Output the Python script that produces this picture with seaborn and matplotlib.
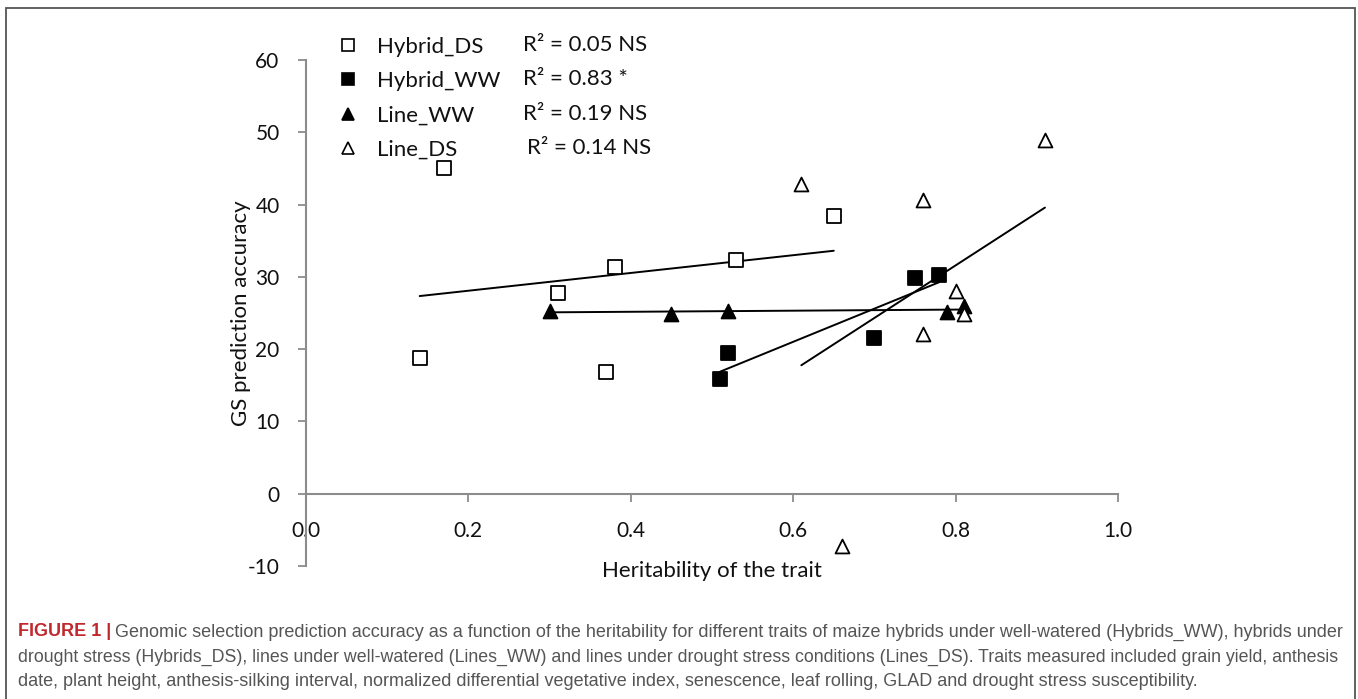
import matplotlib
matplotlib.use('Agg')
import matplotlib.pyplot as plt
import seaborn as sns
from matplotlib.lines import Line2D
from matplotlib.patches import Rectangle
from matplotlib.ticker import FormatStrFormatter

# values (heritability, GS prediction accuracy)
hyb_ds_h = [0.14, 0.17, 0.31, 0.37, 0.38, 0.53, 0.65]
hyb_ds_acc = [18.8, 45.0, 27.8, 16.9, 31.4, 32.4, 38.4]
hyb_ww_h = [0.51, 0.52, 0.70, 0.75, 0.78]
hyb_ww_acc = [15.9, 19.4, 21.5, 29.9, 30.3]
line_ww_h = [0.30, 0.45, 0.52, 0.79, 0.81]
line_ww_acc = [25.3, 24.9, 25.3, 25.1, 25.9]
line_ds_h = [0.61, 0.66, 0.76, 0.76, 0.80, 0.81, 0.91]
line_ds_acc = [42.8, -7.3, 40.6, 22.1, 28.0, 24.9, 48.9]

group_names = ['Hybrid_DS', 'Hybrid_WW', 'Line_WW', 'Line_DS']
r2_labels = ['R² = 0.05 NS', 'R² = 0.83 *', 'R² = 0.19 NS', 'R² = 0.14 NS']
x_ticks = [0.0, 0.2, 0.4, 0.6, 0.8, 1.0]
y_ticks = [-10, 0, 10, 20, 30, 40, 50, 60]

caption_head = 'FIGURE 1 |'
caption_lines = [
    'Genomic selection prediction accuracy as a function of the heritability for different traits of maize hybrids under well-watered (Hybrids_WW), hybrids under',
    'drought stress (Hybrids_DS), lines under well-watered (Lines_WW) and lines under drought stress conditions (Lines_DS). Traits measured included grain yield, anthesis',
    'date, plant height, anthesis-silking interval, normalized differential vegetative index, senescence, leaf rolling, GLAD and drought stress susceptibility.',
]

sns.set_style('ticks')
plt.rcParams['font.family'] = ['Lato', 'DejaVu Sans']
plt.rcParams['axes.unicode_minus'] = False

W, H = 1358, 699
fig = plt.figure(figsize=(W / 100, H / 100), dpi=100)
ax = fig.add_axes([306 / W, 1 - 566 / H, (1118 - 306) / W, (566 - 60) / H])

groups = [
    (hyb_ds_h, hyb_ds_acc, 's', 'white'),
    (hyb_ww_h, hyb_ww_acc, 's', 'black'),
    (line_ww_h, line_ww_acc, '^', 'black'),
    (line_ds_h, line_ds_acc, '^', 'white'),
]

for xs, ys, mk, fc in groups:
    sns.regplot(x=xs, y=ys, ax=ax, ci=None, truncate=True, color='black', marker=mk,
                scatter_kws=dict(s=100, facecolors=fc, edgecolors='black',
                                 linewidths=1.3, alpha=1, zorder=3, clip_on=False),
                line_kws=dict(lw=1.4, zorder=2))

ax.set_xlim(0, 1.0)
ax.set_ylim(-10, 60)
ax.set_xticks(x_ticks)
ax.set_yticks(y_ticks)
ax.xaxis.set_major_formatter(FormatStrFormatter('%.1f'))

ax.spines['bottom'].set_position(('data', 0))
ax.spines[['top', 'right']].set_visible(False)
for side in ['left', 'bottom']:
    ax.spines[side].set_color('#8c8c8c')
    ax.spines[side].set_linewidth(1.5)
ax.tick_params(axis='both', direction='out', length=6, width=1.3, color='#8c8c8c',
               labelsize=15, labelcolor='#111111')
ax.tick_params(axis='y', pad=13)
ax.tick_params(axis='x', pad=14)

ax.set_xlabel('Heritability of the trait', fontsize=16, color='#111111', labelpad=14)
ax.set_ylabel('GS prediction accuracy', fontsize=16, color='#111111')
ax.yaxis.set_label_coords(-0.068, 0.5)

# legend + R2 column
handles = [Line2D([], [], marker=mk, ls='none', markersize=8, mfc=fc, mec='black', mew=1.2)
           for _, _, mk, fc in groups]
fig.legend(handles, group_names, loc='upper left', bbox_to_anchor=(339 / W, 1 - 37 / H),
           frameon=False, fontsize=16, handlelength=0.8, handletextpad=0.9,
           labelspacing=0.64, borderpad=0, borderaxespad=0, labelcolor='#111111')
row_y = [45, 79, 114, 148]
row_x = [523, 523, 523, 527]
for lab, rx, ry in zip(r2_labels, row_x, row_y):
    fig.text(rx / W, 1 - ry / H, lab, fontsize=16, va='center', ha='left', color='#111111')

# caption (slightly smaller size on line 2 so both long lines end at the same edge)
cap_fam = ['Liberation Sans', 'DejaVu Sans']
cap_sizes = [13, 12.8, 13]
head = fig.text(18 / W, 1 - 632 / H, caption_head, fontweight='bold', color='#c0282d',
                va='center', ha='left', fontsize=cap_sizes[0], family=cap_fam)
ax.annotate(caption_lines[0], xy=(1, 0.5), xycoords=head, xytext=(3, 0),
            textcoords='offset points', va='center', ha='left', color='#555555',
            annotation_clip=False, fontsize=cap_sizes[0], family=cap_fam)
for line, cy, fs in zip(caption_lines[1:], [657, 681], cap_sizes[1:]):
    fig.text(18 / W, 1 - cy / H, line, va='center', ha='left', color='#555555',
             fontsize=fs, family=cap_fam)

# outer frame
fig.add_artist(Rectangle((6 / W, -0.05), (1355 - 6) / W, 1 - 8 / H + 0.05,
                         transform=fig.transFigure, fill=False, ec='#555555', lw=1.3))

fig.savefig('out.png', dpi=100)
